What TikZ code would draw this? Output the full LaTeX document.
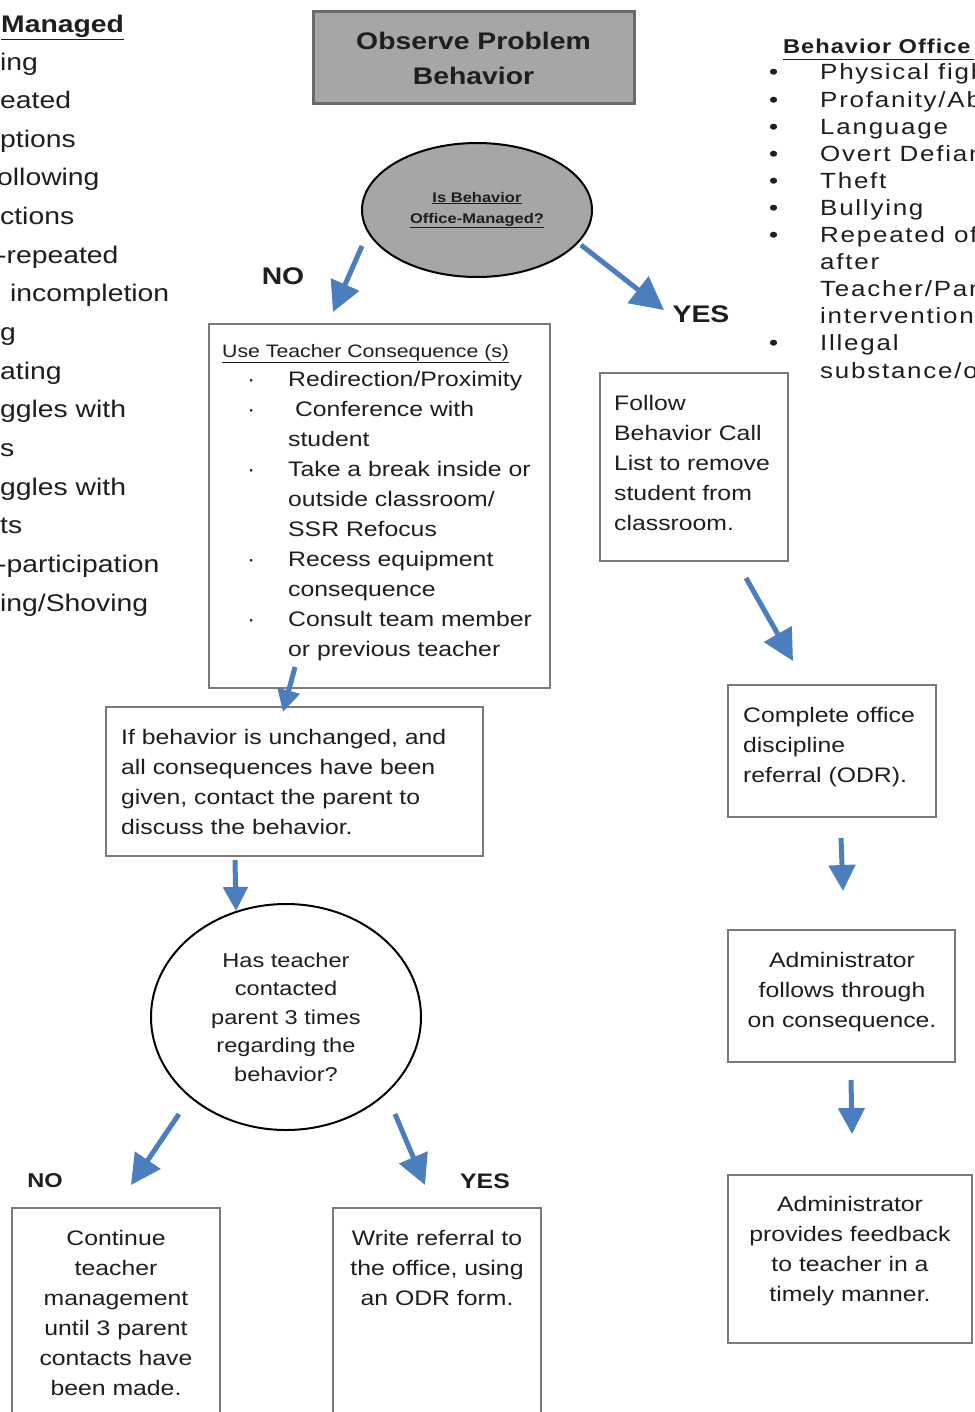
\documentclass[tikz,border=0pt]{standalone}
\usepackage{fontspec}
\setmainfont{Liberation Sans}[FakeStretch=1.18]
\usetikzlibrary{arrows.meta,shapes.geometric}
\definecolor{fillgray}{HTML}{A6A6A6}
\definecolor{boxgray}{HTML}{7A7A7A}
\definecolor{darkframe}{HTML}{6A6A6A}
\definecolor{arrowblue}{HTML}{4A7EBF}
\definecolor{ink}{HTML}{1E1E1E}
\newcommand{\bul}{\makebox[41pt][l]{\textperiodcentered}}
\newcommand{\nob}{\hspace*{41pt}}
\newcommand{\rbul}{\makebox[51pt][l]{\textbullet}}
\newcommand{\rnob}{\hspace*{51pt}}
\begin{document}
\begin{tikzpicture}[x=1pt,y=-1pt,
  box/.style={draw=boxgray, line width=2.5pt, inner sep=0pt},
  txt/.style={text=ink, inner sep=0pt, font=\fontsize{21}{30}\selectfont},
  lbl/.style={text=ink, inner sep=0pt, font=\bfseries\fontsize{24}{28}\selectfont},
  barrow/.style={draw=arrowblue, line width=5pt, -{Triangle[length=#1pt,width=#1pt]}},
  barrow/.default=28]
\useasboundingbox (0,0) rectangle (974,1412);
\clip (0,0) rectangle (974,1412);
\fill[white] (0,0) rectangle (974,1412);

% left column fragments (anchor = baseline of last line)
\node[anchor=base west, text=ink, inner sep=0pt, font=\bfseries\fontsize{24}{28}\selectfont] (lhead) at (1,33) {\underline{Managed}};
\node[anchor=base west, text=ink, inner sep=0pt, align=left, font=\fontsize{24}{38.64}\selectfont] (lcol) at (-3,611)
 {\hspace*{3pt}ing\\\hspace*{3pt}eated\\\hspace*{3pt}ptions\\ollowing\\\hspace*{3pt}ctions\\-repeated\\\hspace*{13pt}incompletion\\\hspace*{3pt}g\\\hspace*{3pt}ating\\\hspace*{3pt}ggles with\\\hspace*{3pt}s\\\hspace*{3pt}ggles with\\\hspace*{3pt}ts\\-participation\\\hspace*{3pt}ing/Shoving};

% right list
\node[anchor=base west, text=ink, inner sep=0pt, font=\bfseries\fontsize{20}{22}\selectfont\addfontfeatures{LetterSpace=5}] (rhead) at (783,54) {\underline{Behavior Office Managed}};
\node[anchor=base west, text=ink, inner sep=0pt, align=left, font=\fontsize{22}{27.1}\selectfont\addfontfeatures{LetterSpace=8}] (rlist) at (769,378)
 {\rbul Physical fighting\\\rbul Profanity/Abusive\\\rbul Language\\\rbul Overt Defiance\\\rbul Theft\\\rbul Bullying\\\rbul Repeated offenses\\\rnob after\\\rnob Teacher/Parent\\\rnob intervention\\\rbul Illegal\\\rnob substance/objects};

% top box
\node[draw=darkframe, line width=3pt, fill=fillgray, minimum width=321, minimum height=92, inner sep=0pt,
  text=ink, align=center, font=\bfseries\fontsize{24}{35}\selectfont] (observe) at (473.5,58) {Observe Problem\\Behavior};

% decision ellipse
\node[ellipse, draw=black, line width=2pt, fill=fillgray, minimum width=230, minimum height=134, inner sep=0pt,
  text=ink, align=center, font=\bfseries\fontsize{14}{21}\selectfont] (q1) at (477,210)
  {\underline{Is Behavior}\\\underline{Office-Managed?}};

\node[lbl] (no1) at (283,276) {NO};
\node[lbl] (yes1) at (701,314) {YES};

% teacher consequence box
\node[box, minimum width=341, minimum height=364] (tc) at (379.5,506) {};
\node[anchor=base west, text=ink, inner sep=0pt, font=\fontsize{18}{22}\selectfont] (tctitle) at (222,357) {\underline{Use Teacher Consequence (s)}};
\node[txt, anchor=base west, align=left] (tclist) at (247,656)
 {\bul Redirection/Proximity\\\bul\ Conference with\\\nob student\\\bul Take a break inside or\\\nob outside classroom/\\\nob SSR Refocus\\\bul Recess equipment\\\nob consequence\\\bul Consult team member\\\nob or previous teacher};

% unchanged box
\node[box, minimum width=377, minimum height=149] (unch) at (294.5,781.5) {};
\node[txt, anchor=base west, align=left] (uncht) at (121,834)
 {If behavior is unchanged, and\\all consequences have been\\given, contact the parent to\\discuss the behavior.};

% circle
\node[ellipse, draw=black, line width=2pt, fill=white, minimum width=270, minimum height=226, inner sep=0pt,
  text=ink, align=center, font=\fontsize{20}{28.5}\selectfont] (q2) at (286,1017)
  {Has teacher\\contacted\\parent 3 times\\regarding the\\behavior?};

\node[lbl, font=\bfseries\fontsize{20}{24}\selectfont] (no2) at (45,1181) {NO};
\node[lbl, font=\bfseries\fontsize{21}{24}\selectfont] (yes2) at (485,1181) {YES};

% bottom boxes
\node[box, minimum width=208, minimum height=232] (cont) at (116,1324) {};
\node[txt, anchor=base, align=center] (contt) at (116,1395)
 {Continue\\teacher\\management\\until 3 parent\\contacts have\\been made.};
\node[box, minimum width=208, minimum height=232] (write) at (437,1324) {};
\node[txt, anchor=base, align=center] (writet) at (437,1305)
 {Write referral to\\the office, using\\an ODR form.};

% right column
\node[box, minimum width=188, minimum height=188] (follow) at (694,467) {};
\node[txt, anchor=base west, align=left] (followt) at (614,530)
 {Follow\\Behavior Call\\List to remove\\student from\\classroom.};
\node[box, minimum width=208, minimum height=132] (odr) at (832,751) {};
\node[txt, anchor=base west, align=left] (odrt) at (743,782)
 {Complete office\\discipline\\referral (ODR).};
\node[box, minimum width=227, minimum height=132] (adm1) at (841.5,996) {};
\node[txt, anchor=base, align=center] (adm1t) at (842,1027)
 {Administrator\\follows through\\on consequence.};
\node[box, minimum width=244, minimum height=168] (adm2) at (850,1259) {};
\node[txt, anchor=base, align=center] (adm2t) at (850,1301)
 {Administrator\\provides feedback\\to teacher in a\\timely manner.};

% arrows
\coordinate (a1s) at (362,246); \coordinate (a1e) at (333,312);
\coordinate (a2s) at (581,245); \coordinate (a2e) at (664,310);
\coordinate (a3s) at (295,667); \coordinate (a3e) at (283,712);
\coordinate (a4s) at (235,860); \coordinate (a4e) at (236,911);
\coordinate (a5s) at (179,1114); \coordinate (a5e) at (131,1185);
\coordinate (a6s) at (395,1114); \coordinate (a6e) at (425,1185);
\coordinate (a7s) at (746,578); \coordinate (a7e) at (793,661);
\coordinate (a8s) at (841,838); \coordinate (a8e) at (843,891);
\coordinate (a9s) at (851,1080); \coordinate (a9e) at (852,1134);
\draw[barrow=30] (a1s) -- (a1e);
\draw[barrow=33] (a2s) -- (a2e);
\draw[barrow=22] (a3s) -- (a3e);
\draw[barrow=24] (a4s) -- (a4e);
\draw[barrow=30] (a5s) -- (a5e);
\draw[barrow=30] (a6s) -- (a6e);
\draw[barrow=31] (a7s) -- (a7e);
\draw[barrow=26] (a8s) -- (a8e);
\draw[barrow=26] (a9s) -- (a9e);
\end{tikzpicture}
\end{document}
